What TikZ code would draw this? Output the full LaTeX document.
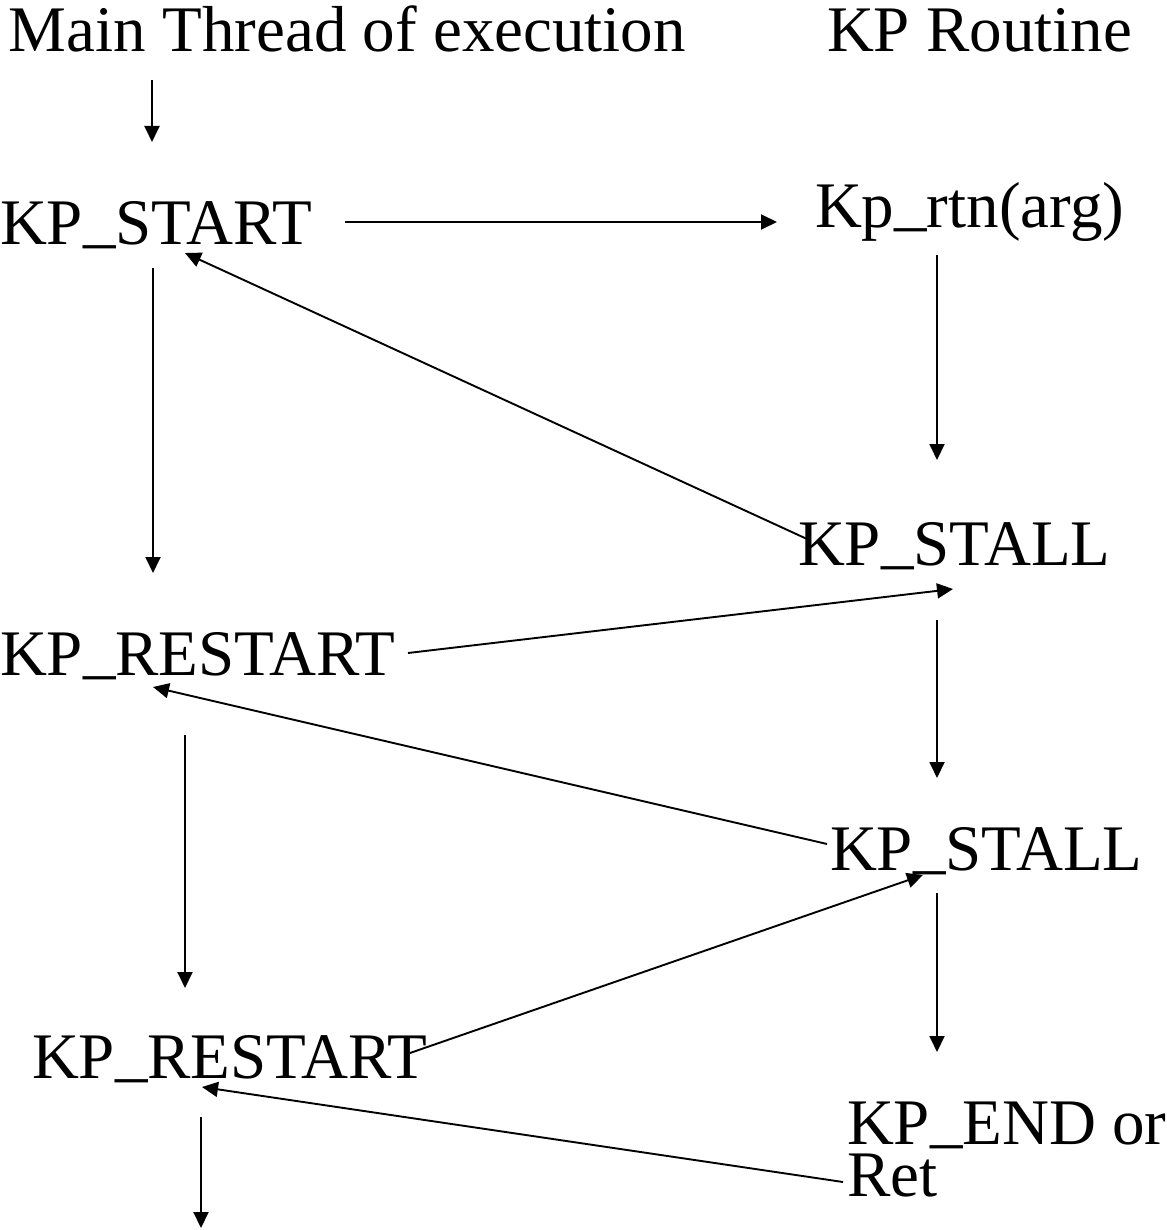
\documentclass[tikz,border=0pt]{standalone}
\usepackage{fontspec}
\setmainfont{Liberation Serif}
\usetikzlibrary{arrows.meta}
\newcommand{\kpus}{\raisebox{4pt}{\_}}
\begin{document}
\begin{tikzpicture}[
        x = 1pt, y = -1pt,
        t/.style = {anchor=base west, inner sep=0pt, outer sep=0pt,
                    font=\fontsize{65}{78}\selectfont},
        e/.style = {line width=1.9pt, -{Triangle[length=16pt, width=15pt]}}
    ]
    \useasboundingbox (0,0) rectangle (1166,1230);
    %--- Draw Labels ---%
        \node (main) [t] at (9,52) {Main Thread of execution};
        \node (routine) [t] at (827,52) {KP Routine};
        \node (start) [t] at (0,245) {KP\kpus START};
        \node (rtn) [t] at (815,228) {Kp\kpus rtn(arg)};
        \node (stalla) [t] at (798,565) {KP\kpus STALL};
        \node (restarta) [t] at (0,675) {KP\kpus RESTART};
        \node (stallb) [t] at (830,870) {KP\kpus STALL};
        \node (restartb) [t] at (32,1078) {KP\kpus RESTART};
        \node (kpend) [t] at (847,1144) {KP\kpus END or};
        \node (ret) [t] at (847,1196) {Ret};
        \coordinate (out) at (201,1228);
        %--- Draw Main Thread ---%
        \draw[e] ([shift={(143,28)}]main.base west) -- ([shift={(152,-103)}]start.base west);
        \draw[e] ([shift={(153,23)}]start.base west) -- ([shift={(153,-102)}]restarta.base west);
        \draw[e] ([shift={(185,60)}]restarta.base west) -- ([shift={(153,-90)}]restartb.base west);
        \draw[e] ([shift={(169,39)}]restartb.base west) -- (out);
        %--- Draw KP Routine ---%
        \draw[e] ([shift={(122,27)}]rtn.base west) -- ([shift={(139,-105)}]stalla.base west);
        \draw[e] ([shift={(139,55)}]stalla.base west) -- ([shift={(107,-92)}]stallb.base west);
        \draw[e] ([shift={(107,23)}]stallb.base west) -- ([shift={(90,-92)}]kpend.base west);
        %--- Draw Switches ---%
        \draw[e] ([shift={(345,-23)}]start.base west) -- ([shift={(-38,-6)}]rtn.base west);
        \draw[e] ([shift={(9,-26)}]stalla.base west) -- ([shift={(185,8)}]start.base west);
        \draw[e] ([shift={(408,-22)}]restarta.base west) -- ([shift={(155,24)}]stalla.base west);
        \draw[e] ([shift={(-3,-26)}]stallb.base west) -- ([shift={(153,12)}]restarta.base west);
        \draw[e] ([shift={(378,-25)}]restartb.base west) -- ([shift={(93,5)}]stallb.base west);
        \draw[e] ([shift={(-4,-14)}]ret.base west) -- ([shift={(170,9)}]restartb.base west);
\end{tikzpicture}
\end{document}
